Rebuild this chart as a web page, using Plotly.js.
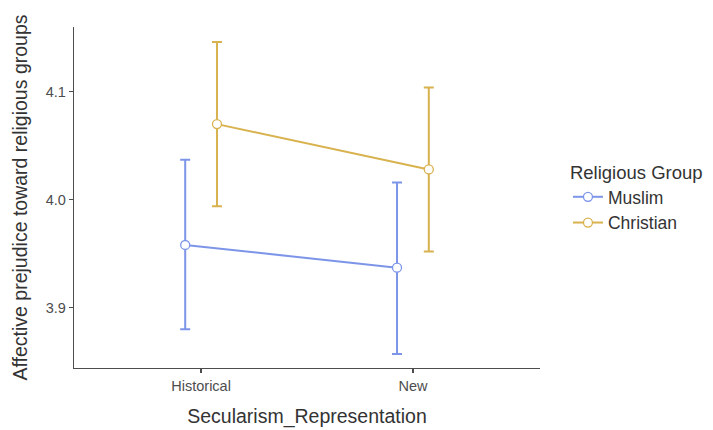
<!DOCTYPE html>
<html>
<head>
<meta charset="utf-8">
<script src="https://cdn.plot.ly/plotly-3.0.1.min.js"></script>
<style>html,body{margin:0;padding:0;background:#fff;}#chart{width:713px;height:430px;}</style>
</head>
<body>
<div id="chart"></div>
<script>
const categories = ["Historical", "New"];
const groups = ["Muslim", "Christian"];
const muslimMean = [3.958, 3.937];
const muslimLower = [3.880, 3.857];
const muslimUpper = [4.037, 4.016];
const christianMean = [4.070, 4.028];
const christianLower = [3.994, 3.952];
const christianUpper = [4.146, 4.104];
const colors = ["#7d95e8", "#d8b24e"];

const dodge = 0.075;
const idx = categories.map((c, i) => i);
function trace(name, mean, lo, hi, color, off) {
  return {
    type: "scatter", mode: "lines+markers", name: name,
    x: idx.map(i => i + off), y: mean,
    line: {color: color, width: 2},
    marker: {symbol: "circle", size: 9, color: "#ffffff", line: {color: color, width: 1.3}},
    error_y: {type: "data", symmetric: false,
      array: mean.map((m, i) => hi[i] - m),
      arrayminus: mean.map((m, i) => m - lo[i]),
      color: color, thickness: 2, width: 5},
    hoverinfo: "x+y"
  };
}
const data = [
  trace(groups[0], muslimMean, muslimLower, muslimUpper, colors[0], -dodge),
  trace(groups[1], christianMean, christianLower, christianUpper, colors[1], dodge)
];
const layout = {
  width: 713, height: 430,
  margin: {l: 74, r: 173, t: 27, b: 62, autoexpand: false},
  paper_bgcolor: "#ffffff", plot_bgcolor: "#ffffff",
  font: {family: "Liberation Sans, Arial, sans-serif", color: "#333333"},
  showlegend: true,
  legend: {x: 1.06, y: 0.625, xanchor: "left", yanchor: "top",
    title: {text: "Religious Group", font: {size: 18.5, color: "#333333"}},
    font: {size: 17.5, color: "#333333"}, tracegroupgap: 0, itemwidth: 30},
  xaxis: {
    range: [-0.6, 1.6], tickmode: "array", tickvals: idx, ticktext: categories,
    showgrid: false, zeroline: false, showline: true, linecolor: "#4d4d4d", linewidth: 1.3,
    ticks: "outside", ticklen: 4, tickcolor: "#4d4d4d", tickwidth: 1.3,
    tickfont: {size: 14.5, color: "#4d4d4d"},
    title: {text: "Secularism_Representation", font: {size: 19.5, color: "#333333"}, standoff: 16}
  },
  yaxis: {
    range: [3.844, 4.160], tickmode: "array", tickvals: [3.9, 4.0, 4.1], ticktext: ["3.9", "4.0", "4.1"],
    showgrid: false, zeroline: false, showline: true, linecolor: "#4d4d4d", linewidth: 1.3,
    ticks: "outside", ticklen: 4, tickcolor: "#4d4d4d", tickwidth: 1.3,
    tickfont: {size: 14.5, color: "#4d4d4d"},
    title: {text: "Affective prejudice toward religious groups", font: {size: 19.5, color: "#333333"}, standoff: 12}
  }
};
Plotly.newPlot("chart", data, layout, {displayModeBar: false, staticPlot: true});
</script>
</body>
</html>
